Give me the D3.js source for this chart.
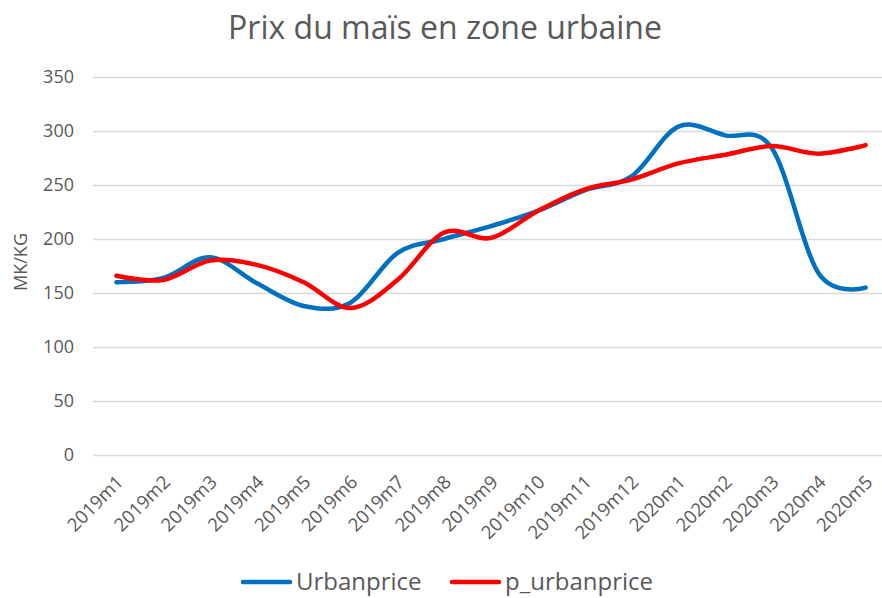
<!DOCTYPE html>
<html>
<head>
<meta charset="utf-8">
<script src="https://cdn.jsdelivr.net/npm/d3@7"></script>
<style>
  body { margin: 0; background: #fff; }
  svg { font-family: "Open Sans", sans-serif; }
</style>
</head>
<body>
<div id="chart"></div>
<script>
// data
var months = ["2019m1","2019m2","2019m3","2019m4","2019m5","2019m6","2019m7","2019m8","2019m9",
  "2019m10","2019m11","2019m12","2020m1","2020m2","2020m3","2020m4","2020m5"]
var urbanprice = [160, 164, 183, 159, 138, 141, 187, 200, 212, 226, 245, 258, 304, 296, 284, 168, 155]
var p_urbanprice = [166, 162, 180, 176, 160, 136, 162, 206, 201, 226, 246, 255, 270, 278, 286, 279, 287]
var yTicks = [0, 50, 100, 150, 200, 250, 300, 350]
var seriesNames = ["Urbanprice", "p_urbanprice"]
var seriesColors = ["#0070C0", "#FF0000"]

var width = 882, height = 598
var margin = { top: 77, right: -7, bottom: 143, left: 93 }

var svg = d3.select("#chart")
  .append("svg")
  .attr("width", width)
  .attr("height", height)

var x = d3.scalePoint()
  .domain(months)
  .range([margin.left, width - margin.right])
  .padding(0.5)

var y = d3.scaleLinear()
  .domain([0, 350])
  .range([height - margin.bottom, margin.top])

// gridlines
svg.append("g")
  .selectAll("line")
  .data(yTicks)
  .enter()
  .append("line")
  .attr("x1", margin.left)
  .attr("x2", width - margin.right)
  .attr("y1", d => Math.round(y(d)) + 0.5)
  .attr("y2", d => Math.round(y(d)) + 0.5)
  .attr("stroke", "#D9D9D9")
  .attr("stroke-width", 1.3)

// y tick labels
svg.append("g")
  .selectAll("text")
  .data(yTicks)
  .enter()
  .append("text")
  .attr("x", 74)
  .attr("y", d => y(d))
  .attr("dy", "0.35em")
  .attr("text-anchor", "end")
  .attr("fill", "#595959")
  .style("font-size", "18px")
  .text(d => d)

// x tick labels, rotated
svg.append("g")
  .selectAll("text")
  .data(months)
  .enter()
  .append("text")
  .attr("transform", d => "translate(" + (x(d) - 1) + "," + 474 + ") rotate(-45)")
  .attr("text-anchor", "end")
  .attr("dy", "0.7em")
  .attr("fill", "#595959")
  .style("font-size", "18.5px")
  .text(d => d)

// y axis title
svg.append("text")
  .attr("transform", "translate(21," + 262 + ") rotate(-90)")
  .attr("text-anchor", "middle")
  .attr("dy", "0.35em")
  .attr("fill", "#595959")
  .style("font-size", "18px")
  .text("MK/KG")

// title
svg.append("text")
  .attr("x", 445)
  .attr("y", 39)
  .attr("text-anchor", "middle")
  .attr("fill", "#595959")
  .style("font-size", "32px")
  .text("Prix du maïs en zone urbaine")

// lines
var line = d3.line()
  .x((d, i) => x(months[i]))
  .y(d => y(d))
  .curve(d3.curveCardinal.tension(0))

var series = [urbanprice, p_urbanprice]

svg.append("g")
  .selectAll("path")
  .data(series)
  .enter()
  .append("path")
  .attr("d", d => line(d))
  .attr("fill", "none")
  .attr("stroke", (d, i) => seriesColors[i])
  .attr("stroke-width", 4.5)
  .attr("stroke-linecap", "round")
  .attr("stroke-linejoin", "round")

// legend
var legendX = [243, 452]
var lg = svg.append("g")
  .selectAll("g")
  .data(seriesNames)
  .enter()
  .append("g")
  .attr("transform", (d, i) => "translate(" + legendX[i] + ",582)")

lg.append("line")
  .attr("x1", 0)
  .attr("x2", 47)
  .attr("stroke", (d, i) => seriesColors[i])
  .attr("stroke-width", 4.5)
  .attr("stroke-linecap", "round")

lg.append("text")
  .attr("x", 53)
  .attr("dy", "0.35em")
  .attr("fill", "#595959")
  .style("font-size", "24px")
  .text(d => d)
</script>
</body>
</html>
